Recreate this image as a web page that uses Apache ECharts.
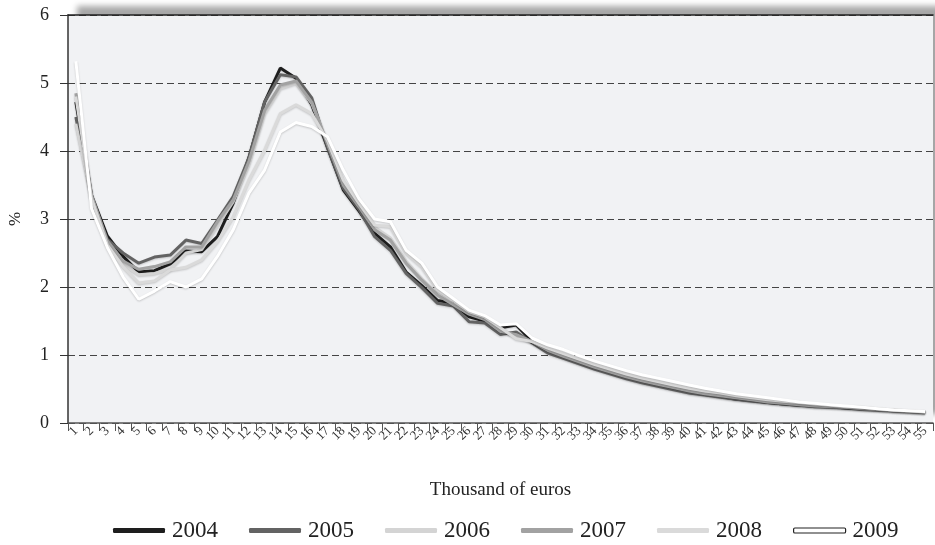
<!DOCTYPE html>
<html>
<head>
<meta charset="utf-8">
<script src="https://cdn.jsdelivr.net/npm/echarts@6/dist/echarts.min.js"></script>
<style>
  html, body { margin: 0; padding: 0; background: #ffffff; }
  #chart { width: 935px; height: 545px; }
</style>
</head>
<body>
<div id="chart"></div>
<script>
// Income brackets, in thousand of euros
const categories = Array.from({ length: 55 }, (_, i) => String(i + 1));

// Share of taxpayers per bracket (%), by year
const s2004 = [4.72,3.35,2.75,2.45,2.22,2.24,2.34,2.53,2.52,2.74,3.23,3.9,4.72,5.22,5.07,4.68,4.05,3.43,3.12,2.79,2.59,2.22,2.02,1.8,1.76,1.56,1.5,1.4,1.44,1.2,1.06,0.97,0.89,0.81,0.74,0.67,0.6,0.56,0.51,0.45,0.42,0.39,0.35,0.33,0.3,0.28,0.26,0.25,0.24,0.22,0.21,0.2,0.18,0.17,0.16];
const s2005 = [4.5,3.3,2.7,2.5,2.35,2.44,2.47,2.69,2.64,2.98,3.33,3.9,4.72,5.12,5.09,4.78,4.05,3.45,3.14,2.74,2.54,2.2,1.99,1.76,1.72,1.49,1.47,1.3,1.34,1.18,1.03,0.95,0.87,0.79,0.72,0.65,0.59,0.54,0.49,0.44,0.41,0.38,0.35,0.32,0.3,0.28,0.26,0.24,0.23,0.22,0.2,0.19,0.18,0.17,0.15];
const s2006 = [4.4,3.3,2.65,2.33,2.18,2.2,2.26,2.5,2.55,2.9,3.25,3.8,4.55,4.92,5.0,4.7,4.12,3.55,3.2,2.88,2.72,2.38,2.12,1.9,1.75,1.62,1.54,1.38,1.27,1.2,1.08,0.99,0.91,0.83,0.76,0.69,0.63,0.58,0.53,0.48,0.44,0.41,0.38,0.35,0.32,0.3,0.28,0.26,0.25,0.23,0.22,0.2,0.19,0.17,0.16];
const s2007 = [4.85,3.35,2.68,2.38,2.26,2.3,2.37,2.59,2.59,2.96,3.28,3.85,4.6,4.97,5.03,4.72,4.1,3.5,3.18,2.84,2.69,2.35,2.1,1.88,1.74,1.6,1.52,1.35,1.3,1.2,1.07,0.98,0.9,0.82,0.75,0.68,0.62,0.57,0.52,0.47,0.43,0.4,0.37,0.34,0.31,0.29,0.27,0.25,0.24,0.23,0.21,0.2,0.18,0.17,0.16];
const s2008 = [4.8,3.3,2.62,2.3,2.06,2.09,2.25,2.29,2.4,2.67,3.03,3.57,4.01,4.55,4.68,4.55,4.15,3.57,3.23,2.91,2.89,2.5,2.3,1.96,1.8,1.64,1.56,1.4,1.24,1.2,1.1,1.02,0.94,0.86,0.79,0.72,0.66,0.61,0.56,0.51,0.47,0.44,0.4,0.37,0.34,0.32,0.3,0.28,0.26,0.24,0.23,0.21,0.19,0.18,0.16];
const s2009 = [5.32,3.15,2.58,2.15,1.82,1.94,2.08,2.0,2.12,2.45,2.84,3.38,3.72,4.28,4.42,4.36,4.21,3.72,3.3,3.0,2.96,2.54,2.35,2.0,1.83,1.66,1.58,1.44,1.46,1.25,1.15,1.08,0.99,0.91,0.84,0.77,0.71,0.66,0.61,0.56,0.51,0.47,0.43,0.4,0.37,0.34,0.31,0.29,0.27,0.25,0.23,0.21,0.19,0.18,0.17];

const years = ['2004', '2005', '2006', '2007', '2008', '2009'];
const yearValues = [s2004, s2005, s2006, s2007, s2008, s2009];
const yearColors = ['#1e1e1e', '#636363', '#d4d4d4', '#a2a2a2', '#dadada', '#ffffff'];

const yTicks = [0, 1, 2, 3, 4, 5, 6];

const serif = '"Liberation Serif", "DejaVu Serif", serif';

const chart = echarts.init(document.getElementById('chart'), null, { renderer: 'canvas' });

const series = years.map((y, i) => ({
  name: y,
  type: 'line',
  data: yearValues[i],
  symbol: 'none',
  smooth: false,
  lineStyle: {
    color: yearColors[i],
    width: 3,
    shadowColor: 'rgba(0,0,0,0.18)',
    shadowBlur: 2,
    shadowOffsetY: 1
  },
  itemStyle: { color: yearColors[i] },
  emphasis: { disabled: true }
}));

chart.setOption({
  animation: false,
  backgroundColor: '#ffffff',
  grid: {
    left: 68,
    top: 15,
    right: 2,
    bottom: 122,
    containLabel: false,
    outerBoundsMode: 'none',
    show: true,
    backgroundColor: '#f1f2f4',
    borderWidth: 0,
    shadowColor: 'rgba(0,0,0,0.35)',
    shadowBlur: 6,
    shadowOffsetX: 9,
    shadowOffsetY: -9
  },
  legend: {
    top: 514,
    left: 108,
    icon: 'roundRect',
    itemWidth: 52,
    itemHeight: 5,
    itemGap: 31,
    textStyle: { fontFamily: serif, fontSize: 23, color: '#222', padding: [0, 0, 0, 2] },
    data: years.map((y, i) => i === 5
      ? { name: y, itemStyle: { color: '#ffffff', borderColor: '#222', borderWidth: 1.2 } }
      : { name: y, itemStyle: { color: yearColors[i] } })
  },
  xAxis: [{
    type: 'category',
    data: categories,
    boundaryGap: true,
    name: 'Thousand of euros',
    nameLocation: 'middle',
    nameGap: 58,
    nameTextStyle: { fontFamily: serif, fontSize: 19, color: '#222' },
    axisLine: { lineStyle: { color: '#555', width: 1.5 } },
    axisTick: { show: true, length: 8, alignWithLabel: false, lineStyle: { color: '#555', width: 1 } },
    axisLabel: {
      interval: 0,
      rotate: 45,
      margin: 6,
      fontFamily: serif,
      fontSize: 13,
      color: '#333'
    },
    splitLine: { show: false }
  }, {
    type: 'category',
    data: categories,
    position: 'top',
    axisLine: { lineStyle: { color: '#222', width: 1.5 } },
    axisTick: { show: false },
    axisLabel: { show: false },
    splitLine: { show: false }
  }],
  yAxis: {
    type: 'value',
    min: yTicks[0],
    max: yTicks[yTicks.length - 1],
    interval: 1,
    name: '%',
    nameLocation: 'middle',
    nameGap: 44,
    nameRotate: 90,
    nameTextStyle: { fontFamily: serif, fontSize: 17, color: '#222' },
    axisLine: { show: true, lineStyle: { color: '#333', width: 1.5 } },
    axisTick: { show: true, length: 8, lineStyle: { color: '#333', width: 1 } },
    axisLabel: { margin: 19, fontFamily: serif, fontSize: 18, color: '#222' },
    splitLine: { show: true, lineStyle: { color: '#444', width: 1, type: [7, 4] } }
  },
  series: series
});
</script>
</body>
</html>
